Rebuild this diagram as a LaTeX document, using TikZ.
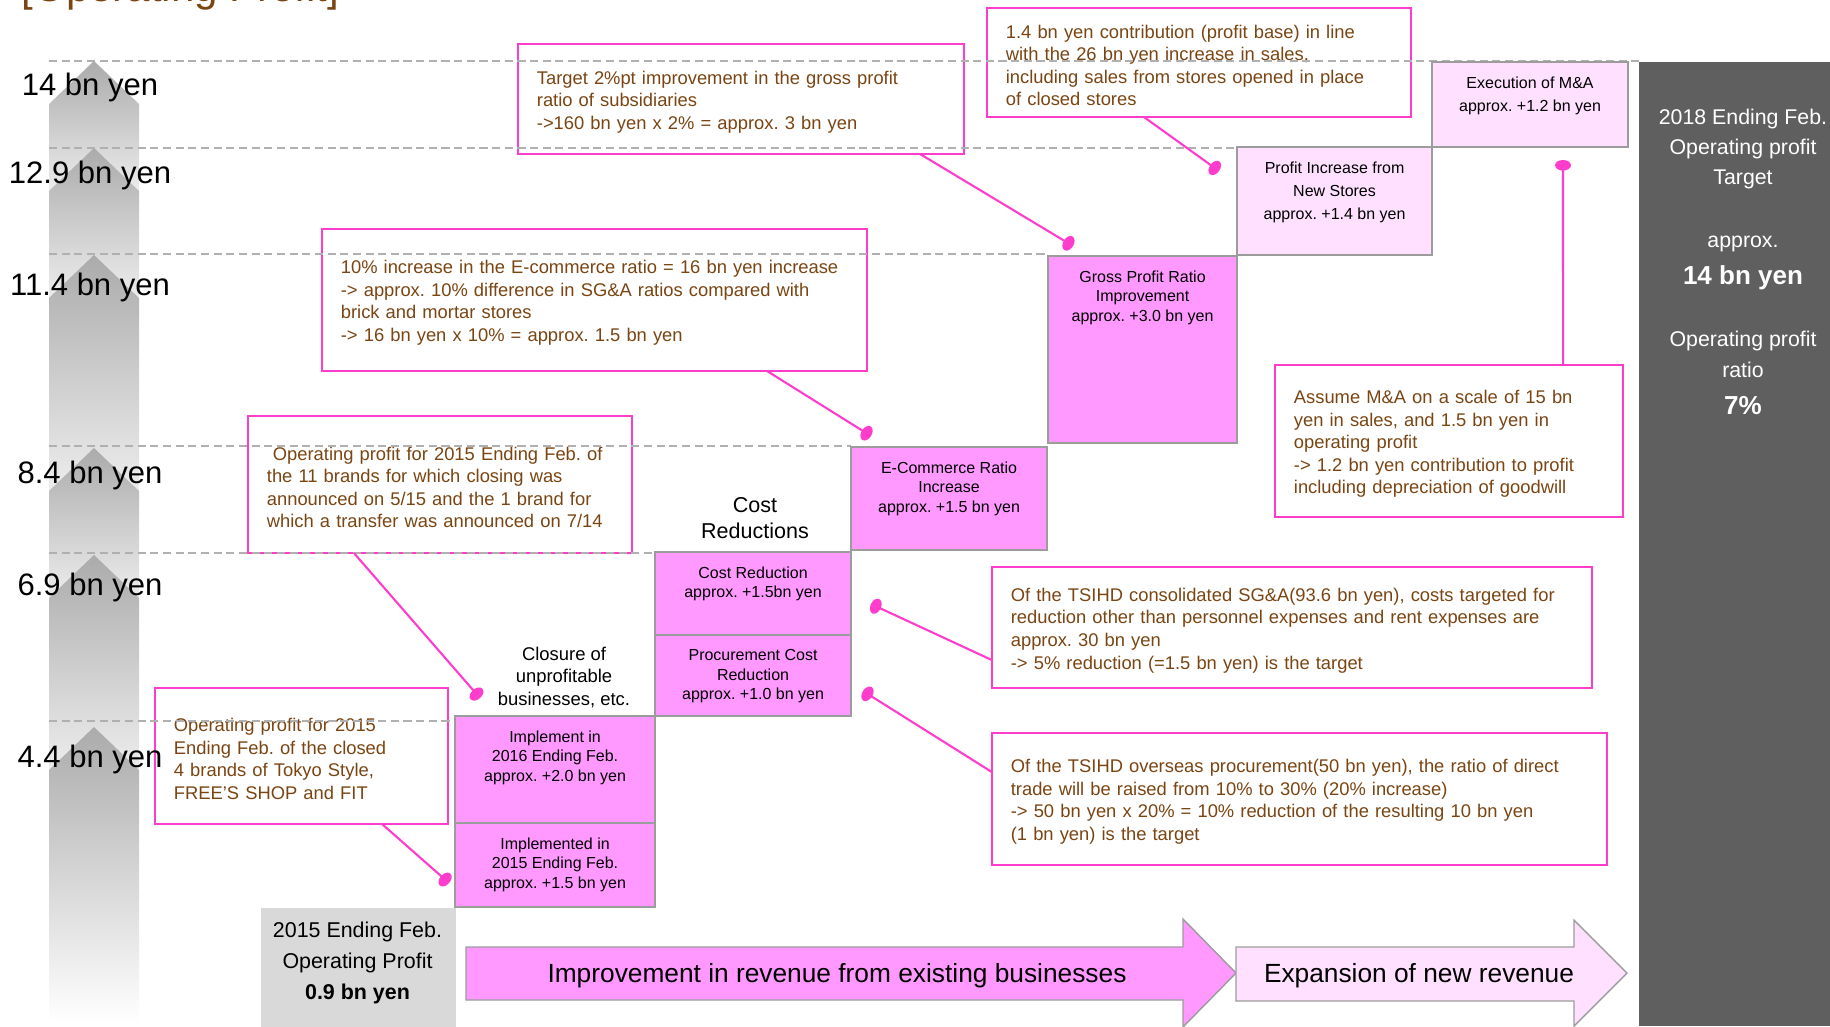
\documentclass[tikz,border=0pt]{standalone}
\usepackage{fontspec}
\setmainfont{Liberation Sans}
\usetikzlibrary{arrows.meta,positioning,calc}
\definecolor{notebrown}{HTML}{7A4512}
\definecolor{magline}{HTML}{FF3DCC}
\definecolor{barpink}{HTML}{FF99FF}
\definecolor{newpink}{HTML}{FFE1FF}
\definecolor{bargray}{HTML}{9C9C9C}
\definecolor{lvldark}{HTML}{ABABAB}
\definecolor{lvllight}{HTML}{EDEDED}
\definecolor{dashgray}{HTML}{B0B0B0}
\definecolor{basegray}{HTML}{D9D9D9}
\definecolor{panelgray}{HTML}{5F5F5F}
\frenchspacing

\begin{document}
\begin{tikzpicture}[x=0.01cm, y=-0.01cm,
  notebox/.style={draw=magline, line width=0.6pt, fill=white, text=notebrown, align=left, inner xsep=0.19cm, inner ysep=0pt, outer sep=0pt, text height=0.19cm, font=\fontsize{5.22pt}{6.43pt}\selectfont},
  barbox/.style={draw=bargray, line width=0.6pt, fill=barpink, inner sep=0pt, outer sep=0pt, anchor=north west},
  newbox/.style={barbox, fill=newpink},
  bartext/.style={anchor=north, yshift=-0.14cm, inner sep=0pt, align=center, font=\fontsize{4.55pt}{5.55pt}\selectfont},
  newtext/.style={bartext, font=\fontsize{4.55pt}{6.54pt}\selectfont},
  lvllabel/.style={anchor=base, inner sep=0pt, font=\fontsize{8.82pt}{10pt}\selectfont},
  lvlline/.style={dashgray, line width=0.6pt, dash pattern=on 2.3pt off 1.3pt},
  callout/.style={magline, line width=0.6pt, -{Ellipse[length=3pt,width=4.5pt]}},
  paneltext/.style={anchor=base, inner sep=0pt, text=white, font=\fontsize{6.06pt}{8pt}\selectfont},
  stagearrow/.style={draw=bargray, line width=0.4pt},
]
  \useasboundingbox (0,0) rectangle (1830,1026);

  % title, cut off at the top
  \node[anchor=base west, inner sep=0pt, text=notebrown, font=\fontsize{11.95pt}{14pt}\selectfont] (title) at (21,1) {[Operating Profit]};

  % profit level column
  \shade[top color=lvldark, bottom color=lvllight] (49,191) -- (49,104) -- (94,61) -- (139,104) -- (139,191) -- cycle;
  \shade[top color=lvldark, bottom color=lvllight] (49,298) -- (49,191) -- (94,148) -- (139,191) -- (139,298) -- cycle;
  \shade[top color=lvldark, bottom color=lvllight] (49,491) -- (49,298) -- (94,255) -- (139,298) -- (139,491) -- cycle;
  \shade[top color=lvldark, bottom color=lvllight] (49,598) -- (49,491) -- (94,448) -- (139,491) -- (139,598) -- cycle;
  \shade[top color=lvldark, bottom color=lvllight] (49,770) -- (49,598) -- (94,555) -- (139,598) -- (139,770) -- cycle;
  \shade[top color=lvldark, bottom color=white] (49,1022) -- (49,770) -- (94,727) -- (139,770) -- (139,1022) -- cycle;

  % notes
  \node[notebox, text width=4.08cm, minimum height=1.10cm] (gpnote) at (741,99)
    {Target 2\%pt improvement in the gross profit\\ratio of subsidiaries\\->160 bn yen x 2\% = approx. 3 bn yen};
  \node[notebox, text width=3.86cm, minimum height=1.09cm] (storenote) at (1199,62.5)
    {1.4 bn yen contribution (profit base) in line\\with the 26 bn yen increase in sales,\\including sales from stores opened in place\\of closed stores};
  \node[notebox, text width=5.07cm, minimum height=1.42cm] (ecnote) at (594.5,300)
    {10\% increase in the E-commerce ratio = 16 bn yen increase\\-> approx. 10\% difference in SG\&A ratios compared with\\brick and mortar stores\\-> 16 bn yen x 10\% = approx. 1.5 bn yen};
  \node[notebox, text width=3.46cm, minimum height=1.37cm] (closenote) at (440,484.5)
    {\hspace*{0.06cm}Operating profit for 2015 Ending Feb. of\\the 11 brands for which closing was\\announced on 5/15 and the 1 brand for\\which a transfer was announced on 7/14};
  \node[notebox, text width=2.55cm, minimum height=1.36cm] (fournote) at (301.5,756)
    {Operating profit for 2015\\Ending Feb. of the closed\\4 brands of Tokyo Style,\\FREE’S SHOP and FIT};
  \node[notebox, text width=3.10cm, minimum height=1.52cm] (mnanote) at (1449,441)
    {Assume M\&A on a scale of 15 bn\\yen in sales, and 1.5 bn yen in\\operating profit\\-> 1.2 bn yen contribution to profit\\including depreciation of goodwill};
  \node[notebox, text width=5.62cm, minimum height=1.21cm] (sganote) at (1292,627.5)
    {Of the TSIHD consolidated SG\&A(93.6 bn yen), costs targeted for\\reduction other than personnel expenses and rent expenses are\\approx. 30 bn yen\\-> 5\% reduction (=1.5 bn yen) is the target};
  \node[notebox, text width=5.77cm, minimum height=1.32cm] (procnote) at (1299.5,799)
    {Of the TSIHD overseas procurement(50 bn yen), the ratio of direct\\trade will be raised from 10\% to 30\% (20\% increase)\\-> 50 bn yen x 20\% = 10\% reduction of the resulting 10 bn yen\\(1 bn yen) is the target};

  % level lines
  \draw[lvlline] (49,61) -- (1639,61);
  \draw[lvlline] (49,148) -- (1237,148);
  \draw[lvlline] (49,254) -- (1048,254);
  \draw[lvlline] (49,446) -- (851,446);
  \draw[lvlline] (49,553) -- (655,553);
  \draw[lvlline] (49,721) -- (455,721);

  % waterfall
  \node[fill=basegray, inner sep=0pt, minimum width=1.95cm, minimum height=1.19cm, anchor=north west] (base) at (260,907) {};
  \node[inner sep=0pt, align=center, text depth=0pt, font=\fontsize{6.09pt}{8.82pt}\selectfont] (basetxt) at (357.5,961)
    {2015 Ending Feb.\\Operating Profit\\\textbf{0.9 bn yen}};
  \node[barbox, minimum width=2.00cm, minimum height=0.84cm] (impl15) at (455,823) {};
  \node[bartext] (impl15txt) at (impl15.north) {Implemented in\\2015 Ending Feb.\\approx. +1.5 bn yen};
  \node[barbox, minimum width=2.00cm, minimum height=1.07cm] (impl16) at (455,716) {};
  \node[bartext] (impl16txt) at (impl16.north) {Implement in\\2016 Ending Feb.\\approx. +2.0 bn yen};
  \node[barbox, minimum width=1.96cm, minimum height=0.81cm] (procure) at (655,635) {};
  \node[bartext] (procuretxt) at (procure.north) {Procurement Cost\\Reduction\\approx. +1.0 bn yen};
  \node[barbox, minimum width=1.96cm, minimum height=0.83cm] (costred) at (655,552) {};
  \node[bartext] (costredtxt) at (costred.north) {Cost Reduction\\approx. +1.5bn yen};
  \node[barbox, minimum width=1.96cm, minimum height=1.03cm] (ecomm) at (851,447) {};
  \node[bartext] (ecommtxt) at (ecomm.north) {E-Commerce Ratio\\Increase\\approx. +1.5 bn yen};
  \node[barbox, minimum width=1.89cm, minimum height=1.87cm] (gross) at (1048,256) {};
  \node[bartext] (grosstxt) at (gross.north) {Gross Profit Ratio\\Improvement\\approx. +3.0 bn yen};
  \node[newbox, minimum width=1.95cm, minimum height=1.08cm] (stores) at (1237,147) {};
  \node[newtext] (storestxt) at (stores.north) {Profit Increase from\\New Stores\\approx. +1.4 bn yen};
  \node[newbox, minimum width=1.96cm, minimum height=0.85cm] (mna) at (1432,62) {};
  \node[newtext] (mnatxt) at (mna.north) {Execution of M\&A\\approx. +1.2 bn yen};

  \node[inner sep=0pt, align=center, font=\fontsize{5.24pt}{6.4pt}\selectfont] (closelbl) at (564,677) {Closure of\\unprofitable\\businesses, etc.};
  \node[inner sep=0pt, align=center, font=\fontsize{6.12pt}{7.4pt}\selectfont] (costlbl) at (755,518) {Cost\\Reductions};

  % level labels
  \node[lvllabel] (lv14) at (90,95) {14 bn yen};
  \node[lvllabel] (lv129) at (90,183) {12.9 bn yen};
  \node[lvllabel] (lv114) at (90,295) {11.4 bn yen};
  \node[lvllabel] (lv84) at (90,483) {8.4 bn yen};
  \node[lvllabel] (lv69) at (90,595) {6.9 bn yen};
  \node[lvllabel] (lv44) at (90,767) {4.4 bn yen};

  % callouts
  \coordinate (dotgross) at (1073,246);
  \coordinate (dotstores) at (1219,171);
  \coordinate (dotmna) at (1563,160);
  \coordinate (dotecomm) at (871,436);
  \coordinate (dotclose) at (480,698);
  \coordinate (dotfour) at (449,883);
  \coordinate (dotcost) at (871,604);
  \coordinate (dotproc) at (863,691);
  \draw[callout] ([xshift=1.79cm]gpnote.south) -- (dotgross);
  \draw[callout] ([xshift=-0.55cm]storenote.south) -- (dotstores);
  \draw[callout] ([xshift=1.14cm]mnanote.north) -- (dotmna);
  \draw[callout] ([xshift=1.725cm]ecnote.south) -- (dotecomm);
  \draw[callout] ([xshift=-0.86cm]closenote.south) -- (dotclose);
  \draw[callout] ([xshift=0.805cm]fournote.south) -- (dotfour);
  \draw[callout] ([yshift=-0.325cm]sganote.west) -- (dotcost);
  \draw[callout] ([yshift=0.27cm]procnote.west) -- (dotproc);

  % stage arrows
  \draw[stagearrow, fill=barpink] (466,947) -- (1183,947) -- (1183,919) -- (1236,973) -- (1183,1027) -- (1183,1000) -- (466,1000) -- cycle;
  \node[anchor=base, inner sep=0pt, font=\fontsize{7.48pt}{9pt}\selectfont] (oldrev) at (837,982) {Improvement in revenue from existing businesses};
  \draw[stagearrow, fill=newpink] (1236,947) -- (1574,947) -- (1574,920) -- (1627,973) -- (1574,1026) -- (1574,1001) -- (1236,1001) -- cycle;
  \node[anchor=base, inner sep=0pt, font=\fontsize{7.48pt}{9pt}\selectfont] (newrev) at (1419,982) {Expansion of new revenue};

  % target panel
  \fill[panelgray] (1639,62) rectangle (1830,1026);
  \node[paneltext] (tg1) at (1743,124.6) {2018 Ending Feb.};
  \node[paneltext] (tg2) at (1743,154.6) {Operating profit};
  \node[paneltext] (tg3) at (1743,184.6) {Target};
  \node[paneltext] (tg4) at (1743,247.6) {approx.};
  \node[paneltext, font=\fontsize{7.4pt}{9pt}\selectfont\bfseries] (tg5) at (1743,284.3) {14 bn yen};
  \node[paneltext] (tg6) at (1743,346.6) {Operating profit};
  \node[paneltext] (tg7) at (1743,377.6) {ratio};
  \node[paneltext, font=\fontsize{7.4pt}{9pt}\selectfont\bfseries] (tg8) at (1743,414.3) {7\%};
\end{tikzpicture}
\end{document}
